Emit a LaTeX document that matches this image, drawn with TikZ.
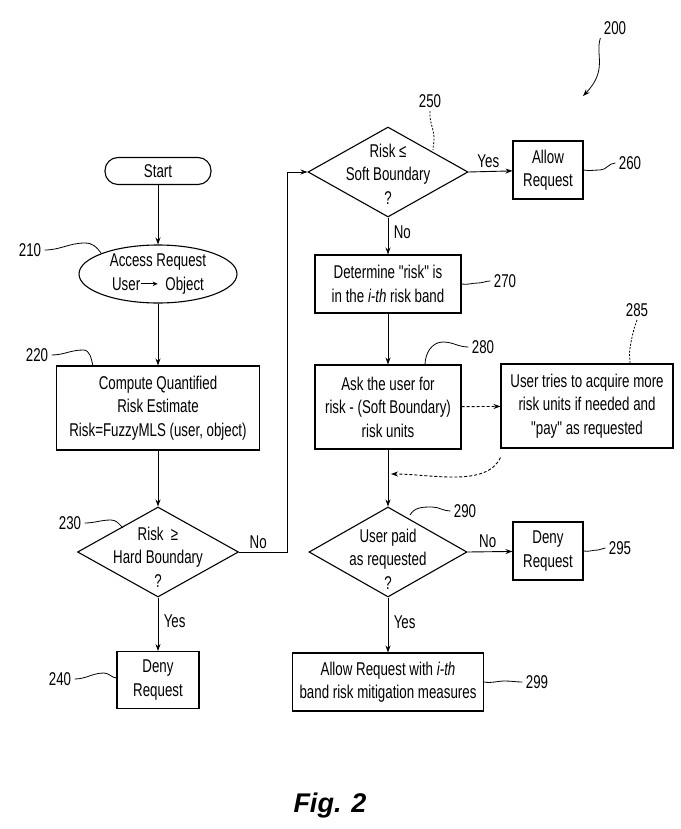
\documentclass[tikz,border=0pt]{standalone}
\usepackage{fontspec}
\setmainfont[FakeStretch=0.72,Ligatures=TeXOff]{Liberation Sans}
\newfontfamily\figfont{Liberation Sans}
\usetikzlibrary{shapes.geometric,arrows.meta}
\newcommand{\inarrow}{\tikz[baseline=-0.65ex]\draw[line width=0.8pt,-{Stealth[length=5pt,width=4.5pt]}] (0pt,0pt) -- (17pt,0pt);}
\begin{document}
\begin{tikzpicture}[x=1pt,y=-1pt,
  every node/.style={font=\fontsize{18.5}{23.5}\selectfont},
  box/.style={draw,line width=1.1pt,inner sep=0pt,align=center},
  dia/.style={draw,diamond,line width=1.1pt,inner sep=0pt,aspect=1.78},
  txt/.style={align=center,inner sep=0pt},
  arr/.style={line width=0.9pt,-{Stealth[length=7pt,width=5pt]}},
  lead/.style={line width=0.8pt},
  dlead/.style={line width=0.8pt,dash pattern=on 2pt off 1.5pt},
  darr/.style={line width=0.9pt,dash pattern=on 3pt off 2pt,-{Stealth[length=7pt,width=5pt]}}]
\useasboundingbox[fill=white] (0,0) rectangle (680,829);

% left column
\node[box,rounded corners=13pt,minimum width=106,minimum height=27] (start) at (158,171) {Start};
\node[draw,ellipse,line width=1.1pt,inner sep=0pt,minimum width=158,minimum height=58,align=center] (acc) at (158,274) {Access Request\\User\inarrow\ \ Object};
\node[box,minimum width=203,minimum height=84] (comp) at (158,408) {Compute Quantified\\Risk Estimate\\Risk=FuzzyMLS (user, object)};
\node[dia,minimum width=161,minimum height=90] (d230) at (158,552) {};
\node[txt] (t230) at (158,557) {Risk \ ≥\\Hard Boundary\\?};
\node[box,minimum width=82,minimum height=57] (deny240) at (158,680) {Deny\\Request};

% right column
\node[dia,minimum width=160,minimum height=90] (d250) at (388,172) {};
\node[txt] (t250) at (388,174) {Risk ≤\\Soft Boundary\\?};
\node[box,minimum width=70,minimum height=58] (allow260) at (548,170) {Allow\\Request};
\node[box,minimum width=146,minimum height=58] (det270) at (388,284) {Determine "risk" is\\in the \textit{i-th} risk band};
\node[box,minimum width=146,minimum height=84] (ask280) at (388,407) {Ask the user for\\risk - (Soft Boundary)\\risk units};
\node[box,minimum width=172,minimum height=84] (u285) at (587,406) {User tries to acquire more\\risk units if needed and\\"pay" as requested};
\node[dia,minimum width=158,minimum height=90] (d290) at (388,552) {};
\node[txt] (t290) at (388,559) {User paid\\as requested\\?};
\node[box,minimum width=70,minimum height=58] (deny295) at (548,551) {Deny\\Request};
\node[box,minimum width=191,minimum height=58] (allow299) at (388,682) {Allow Request with \textit{i-th}\\band risk mitigation measures};

\coordinate (nb) at (287,0);
\coordinate (jn) at (391,474);

% connectors
\draw[arr] (start) -- (acc);
\draw[arr] (acc) -- (comp);
\draw[arr] (comp) -- (d230.north);
\draw[arr] (d230.south) -- node[right,pos=0.45,xshift=2pt]{Yes} (deny240);
\draw[arr] (d230.east) -- node[above,pos=0.4]{No} (d230.east -| nb) |- (d250.west);
\draw[arr] (d250.east) -- node[above,pos=0.45]{Yes} (allow260);
\draw[arr] (d250.south) -- node[right,pos=0.4,xshift=2pt]{No} (det270);
\draw[arr] (det270) -- (ask280);
\draw[arr] (ask280) -- (d290.north);
\draw[darr] (ask280) -- (u285);
\draw[darr] ([yshift=-9pt]u285.south west) .. controls +(-14,30) and +(40,0) .. (jn);
\draw[arr] (d290.east) -- node[above,pos=0.45]{No} (deny295);
\draw[arr] (d290.south) -- node[right,pos=0.45,xshift=2pt]{Yes} (allow299);

% reference numerals and leaders
\node (n210) at (30,250) {210};
\draw[lead] (n210.east) to[out=0,in=180] (85,243) to[out=0,in=125] (101,253);
\node (n220) at (37,355) {220};
\draw[lead] (n220.east) to[out=0,in=180] (83,350) to[out=0,in=105] (93,366);
\node (n230) at (70,523) {230};
\draw[lead] (n230.east) to[out=0,in=180] (111,520) to[out=0,in=135] (123,528);
\node (n240) at (60,679) {240};
\draw[lead] (n240.east) to[out=0,in=180] (104,673) to[out=0,in=180] (117,678);
\node (n250) at (430,101) {250};
\draw[dlead] (n250.south) to[out=-95,in=95] (434,137) to[out=-85,in=90] (433,150);
\node (n260) at (630,163) {260};
\draw[lead] (allow260.east) to[out=-10,in=180] (600,170) to[out=0,in=180] (n260.west);
\node (n270) at (505,281) {270};
\draw[lead] (det270.east) to[out=-10,in=180] (478,283) to[out=0,in=180] (n270.west);
\node (n280) at (483,347) {280};
\draw[lead] (425,365) to[out=90,in=180] (443,342) to[out=0,in=180] (n280.west);
\node (n285) at (637,310) {285};
\draw[dlead] (n285.south) to[out=-110,in=80] (630,348) to[out=-100,in=90] (630,364);
\node (n290) at (465,511) {290};
\draw[lead] (410,515) to[out=60,in=180] (432,507) to[out=0,in=180] (n290.west);
\node (n295) at (620,548) {295};
\draw[lead] (deny295.east) to[out=-10,in=180] (598,550) to[out=0,in=180] (n295.west);
\node (n299) at (537,682) {299};
\draw[lead] (allow299.east) to[out=-10,in=180] (505,681) to[out=0,in=180] (n299.west);
\node (n200) at (615,28) {200};
\draw[lead,-{Stealth[length=7pt,width=5pt]}] (n200.south west) .. controls (595,55) and (608,70) .. (583,96);

\node[font=\figfont\fontsize{27}{30}\selectfont\bfseries\itshape] (fig) at (330,806) {Fig. 2};
\end{tikzpicture}
\end{document}
